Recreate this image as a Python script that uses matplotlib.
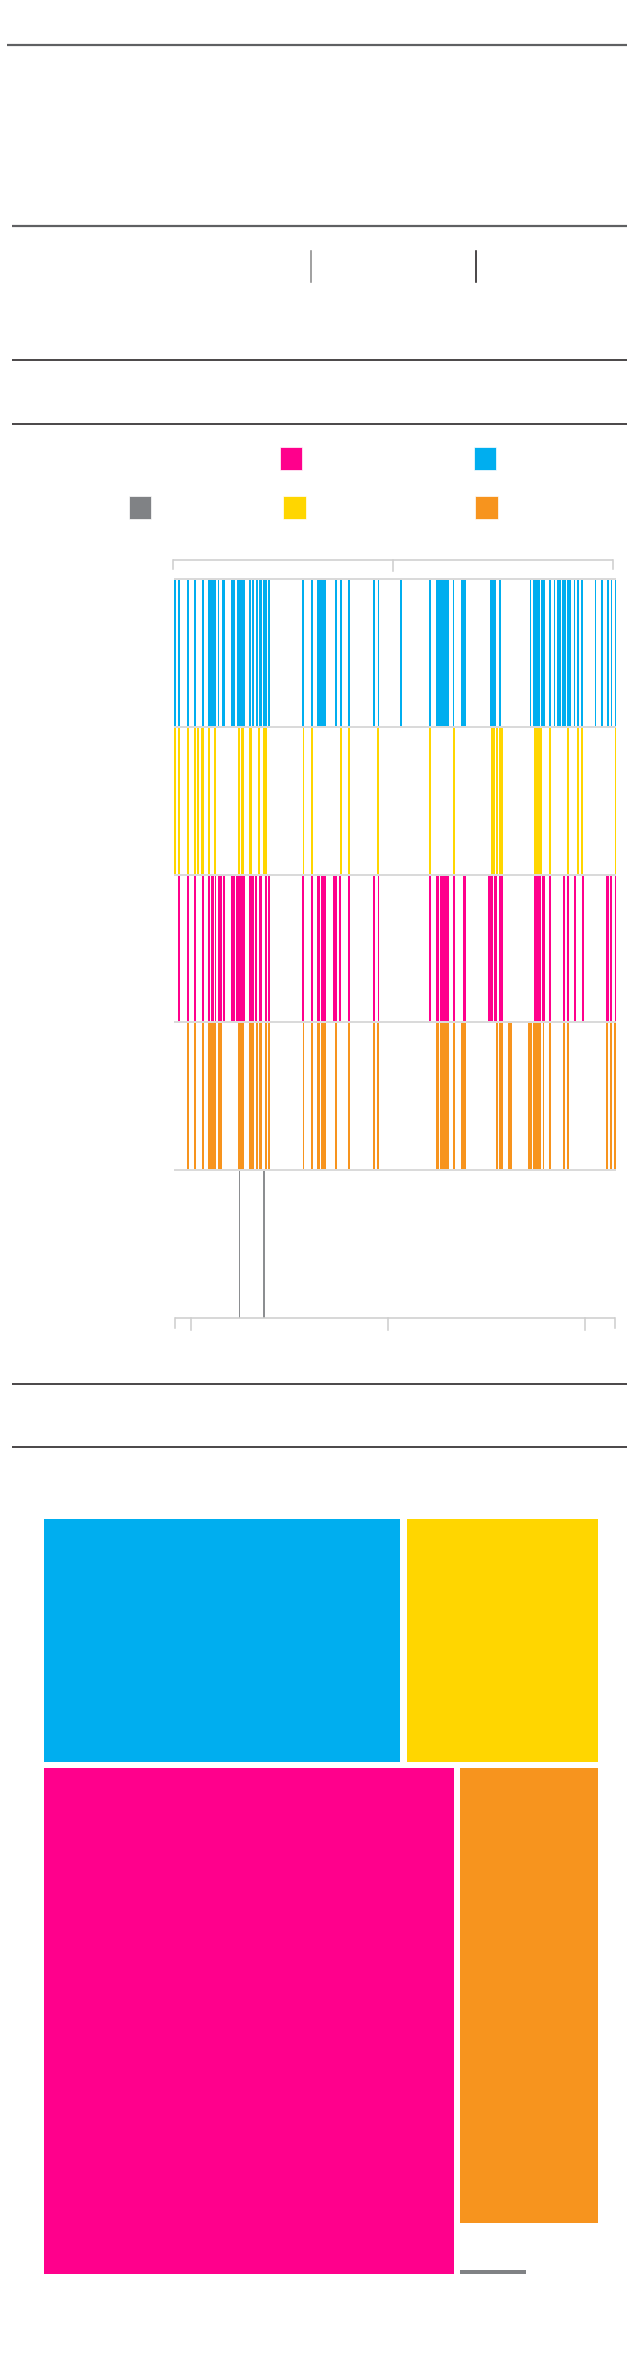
import matplotlib
matplotlib.use("Agg")
import matplotlib.pyplot as plt
from matplotlib.patches import Rectangle

# ---------------- data ----------------
# colours of the five categories
cat_names = ["blue", "yellow", "pink", "orange", "gray"]
cat_colors = {"blue": "#00AEEF", "yellow": "#FFD600", "pink": "#FF008C",
              "orange": "#F7941E", "gray": "#808285"}

# event positions on the strip timeline (axis runs 0 .. 442)
blue_events = [1, 5, 14, 21, 29, 35.3, 37.3, 39.3, 41, 44.5, 48.7, 50.3, 57.7, 59.5, 60.3,
               63.7, 65.7, 67.7, 70, 76.3, 79, 83, 85.7, 87.3, 90.3, 91.7, 95, 129.3, 137.7,
               143.7, 145.7, 147.7, 149.7, 151, 162, 167, 175, 200.3, 204.5, 226.7, 256.2,
               262.7, 264.7, 266.7, 268.7, 270.7, 272.7, 274, 279.5, 288, 290, 291, 317, 319,
               320.7, 326, 356.5, 360.3, 362.3, 364.3, 365, 367.7, 370.2, 376, 380.5, 384.3,
               385.7, 388.7, 390.7, 393.7, 395.7, 400.5, 404, 408.2, 421.5, 427.7, 433.8,
               437.5, 441.5]
yellow_events = [1, 5, 14, 21, 24.3, 27.7, 29.3, 35, 41, 65, 67.5, 69.3, 76.3, 77.3, 85.3,
                 90.3, 92, 129.5, 138, 167, 175, 204.2, 256.2, 280, 317.8, 320.3, 322.7, 326.3,
                 328, 361, 363, 365, 367, 376.3, 394, 404, 408.3, 441.7]
pink_events = [5, 13.9, 21, 28.9, 35.2, 37.6, 39.5, 41.4, 44.6, 46.8, 50.1, 57.6, 59.3, 60.4,
               63.2, 65.1, 67, 68.9, 70, 76.2, 78.1, 79.1, 82, 85.8, 87.3, 91.8, 95, 129.3, 138,
               143.6, 145.5, 147.4, 149.3, 151.1, 160, 162.3, 166.3, 175.1, 200.2, 204.5, 256.3,
               262.6, 264.5, 266.4, 268.3, 270.2, 272.1, 274.1, 279.7, 289.6, 291.1, 314.9,
               316.8, 318.4, 320.9, 322.1, 326.2, 327.8, 360.9, 362.8, 364.7, 365.8, 369.1,
               369.9, 376.3, 390.1, 393.8, 400.8, 408.7, 432.9, 434.4, 437.3, 441.5]
orange_events = [13.9, 21, 29.1, 35.2, 37.1, 39, 41.1, 44.6, 46.5, 47.1, 64.8, 66.7, 68.6, 69.1,
                 76.2, 78.1, 79.1, 82.6, 85.9, 87.1, 91.8, 95, 129.5, 137.8, 143.6, 145.5, 147.4,
                 149.3, 150.8, 162, 175.1, 200.3, 204.3, 262.6, 264.5, 266.4, 268.3, 270.2,
                 272.1, 274.1, 279.7, 287.9, 289.8, 291.1, 322.7, 326.2, 327.8, 334.8, 336.7,
                 354.9, 356.9, 360.2, 362.1, 364, 365.9, 369.5, 376.3, 389.9, 393.8, 432.8,
                 437.1, 441.3]
gray_events = [65.3, 90]

# timeline brackets
top_bracket = [-1.3, 218.7, 439]        # period boundaries above the strips
axis_range = [1, 441]                    # extent of the lower axis
axis_ticks = [16.7, 214, 411.3]          # ticks on the lower axis

# treemap shares (percent)
tm_blue, tm_yellow, tm_pink, tm_orange, tm_gray = 21.1, 11.3, 50.6, 15.3, 1.7

# ---------------- figure ----------------
W, H = 640, 2354
PT = 0.72  # points per pixel at dpi 100
fig = plt.figure(figsize=(W / 100, H / 100), dpi=100)
fig.patch.set_facecolor("white")

ax0 = fig.add_axes([0, 0, 1, 1])
ax0.set_xlim(0, W)
ax0.set_ylim(H, 0)
ax0.axis("off")


def frect(x0, y0, x1, y1):
    return [x0 / W, 1 - y1 / H, (x1 - x0) / W, (y1 - y0) / H]


# horizontal rules
rules = [(44.5, 7, 627, "#5f6062", 2.2), (225.5, 12, 627, "#5f6062", 2.2),
         (360.3, 12, 627, "#231f20", 1.6), (424.3, 12, 627, "#231f20", 1.6),
         (1384.3, 12, 627, "#231f20", 1.6), (1447, 12, 627, "#231f20", 1.6)]
for y, x0, x1, c, lw in rules:
    ax0.plot([x0, x1], [y, y], color=c, lw=lw * PT, solid_capstyle="butt")

# short vertical markers
ax0.plot([310.6, 310.6], [251, 282], color="#8c8c8c", lw=1.6 * PT)
ax0.plot([476, 476], [251, 282], color="#231f20", lw=1.6 * PT)

# legend squares
legend_pos = {"pink": (279.5, 447), "blue": (473.5, 447), "gray": (128.5, 496),
              "yellow": (283, 496), "orange": (475, 496)}
for name, (lx, ly) in legend_pos.items():
    ax0.add_patch(Rectangle((lx, ly), 22.5, 22.5, facecolor=cat_colors[name],
                            edgecolor="white", lw=0.5))

# ---------------- strip chart ----------------
axs = fig.add_axes(frect(174, 579, 616, 1318))
axs.set_xlim(0, 442)
axs.set_ylim(5, 0)
axs.axis("off")
row_px = (1318 - 579) / 5.0

series = [blue_events, yellow_events, pink_events, orange_events]
for i, (ev, name) in enumerate(zip(series, cat_names[:4])):
    axs.bar(ev, 1, width=1.8, bottom=i, color=cat_colors[name], linewidth=0,
            align="center", zorder=2)
axs.bar(gray_events, 1, width=1.5, bottom=4, color=cat_colors["gray"], linewidth=0,
        zorder=2, alpha=0.9)

for yy in range(5):
    axs.plot([0, 442], [yy, yy], color="#dadada", lw=2 * PT, zorder=3,
             solid_capstyle="butt", clip_on=False)

bc = "#cfcfcf"
# upper bracket
ytop = -19 / row_px
axs.plot([top_bracket[0], top_bracket[-1]], [ytop, ytop], color=bc, lw=1.6 * PT,
         clip_on=False, solid_capstyle="butt")
for k, xb in enumerate(top_bracket):
    ln = 11 if k == 1 else 9
    axs.plot([xb, xb], [ytop, ytop + ln / row_px], color=bc, lw=1.6 * PT, clip_on=False)
# lower axis
axs.plot(axis_range, [5, 5], color=bc, lw=1.6 * PT, clip_on=False, solid_capstyle="butt")
for xb in axis_range:
    axs.plot([xb, xb], [5, 5 + 10 / row_px], color=bc, lw=1.6 * PT, clip_on=False)
for xb in axis_ticks:
    axs.plot([xb, xb], [5, 5 + 12 / row_px], color=bc, lw=1.6 * PT, clip_on=False)

# ---------------- treemap ----------------
axt = fig.add_axes(frect(43.5, 1519, 598, 2274))
axt.set_xlim(0, 1)
axt.set_ylim(1, 0)
axt.axis("off")
gx = 6.5 / (598 - 43.5)
gy = 6.0 / (2274 - 1519)
total = tm_blue + tm_yellow + tm_pink + tm_orange + tm_gray
top_sum = tm_blue + tm_yellow
bot_sum = tm_pink + tm_orange + tm_gray
h_top = (1 - gy) * top_sum / total
h_bot = (1 - gy) * bot_sum / total
# top row
w_blue = (1 - gx) * tm_blue / top_sum
axt.add_patch(Rectangle((0, 0), w_blue, h_top, color=cat_colors["blue"], lw=0))
axt.add_patch(Rectangle((w_blue + gx, 0), 1 - w_blue - gx, h_top,
                        color=cat_colors["yellow"], lw=0))
# bottom row
y1 = h_top + gy
w_pink = (1 - gx) * tm_pink / bot_sum
axt.add_patch(Rectangle((0, y1), w_pink, h_bot, color=cat_colors["pink"], lw=0))
xc = w_pink + gx
wc = 1 - xc
h_or = h_bot * tm_orange / (tm_orange + tm_gray)
axt.add_patch(Rectangle((xc, y1), wc, h_or, color=cat_colors["orange"], lw=0))
bar_h = 4 / (2274 - 1519)
axt.add_patch(Rectangle((xc, 1 - bar_h), wc * 0.48, bar_h, color=cat_colors["gray"], lw=0))

fig.savefig("out.png", dpi=100, facecolor="white")
